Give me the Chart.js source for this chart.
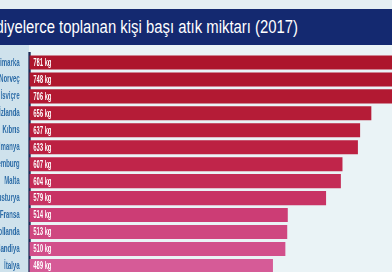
<!DOCTYPE html>
<html>
<head>
<meta charset="utf-8">
<script src="https://cdn.jsdelivr.net/npm/chart.js@4"></script>
<style>
  html, body { margin: 0; padding: 0; }
  body { width: 392px; height: 272px; overflow: hidden; background: #e4eef2; position: relative; }
  #title {
    position: absolute; left: 0; top: 9px; width: 392px; height: 36px;
    background: #142970; overflow: hidden;
  }
  #title span {
    position: absolute; right: 94px; top: 8px; white-space: nowrap;
    font-family: "Liberation Sans", Arial, sans-serif; font-size: 17.5px; color: #ffffff;
    transform: scaleX(0.85); transform-origin: right center;
  }
  #panel { position: absolute; left: 0; top: 45px; width: 29px; height: 227px; background: #cfe2ec; }
  #plotbg { position: absolute; left: 29px; top: 45px; width: 363px; height: 227px; background: #eaf3f6; }
  /* the photo shows narrow type: squeeze the canvas horizontally */
  #wrap {
    position: absolute; left: -31.5px; top: 0;
    transform: scaleX(0.55); transform-origin: 0 0;
  }
  #wrap canvas { display: block; }
</style>
</head>
<body>
<div id="title"><span>Belediyelerce toplanan kişi başı atık miktarı (2017)</span></div>
<div id="panel"></div>
<div id="plotbg"></div>
<div id="wrap"><canvas id="atikChart" width="770" height="291"></canvas></div>
<script>
// Ülkeler ve kişi başı atık (kg)
const ulkeler = ['Danimarka', 'Norveç', 'İsviçre', 'İzlanda', 'Kıbrıs', 'Almanya', 'Lüksemburg',
                 'Malta', 'Avusturya', 'Fransa', 'Hollanda', 'Finlandiya', 'İtalya'];
const atikKg = [781, 748, 706, 656, 637, 633, 607, 604, 579, 514, 513, 510, 489];
const barRenkleri = ['#ad162c', '#af172f', '#b21932', '#b51c37', '#b91e3c', '#bc2142', '#c0254a',
                     '#c42b56', '#c83364', '#cc3d75', '#cf4780', '#d24f8b', '#d65b97'];

// etiketleri çubuğun başına yaz
const degerEtiketi = {
    id: 'degerEtiketi',
    afterDatasetsDraw(chart) {
        const ctx = chart.ctx;
        const meta = chart.getDatasetMeta(0);
        ctx.save();
        ctx.fillStyle = '#ffffff';
        ctx.font = 'bold 10.5px "Liberation Sans", Arial, sans-serif';
        ctx.textBaseline = 'middle';
        meta.data.forEach(function (bar, i) {
            ctx.fillText(atikKg[i] + ' kg', chart.chartArea.left + 7, bar.y + 0.5);
        });
        ctx.restore();
    }
};

const ctx = document.getElementById('atikChart').getContext('2d');
new Chart(ctx, {
    type: 'bar',
    data: {
        labels: ulkeler,
        datasets: [{
            data: atikKg,
            backgroundColor: barRenkleri,
            borderWidth: 0,
            categoryPercentage: 1,
            barPercentage: 0.83
        }]
    },
    options: {
        indexAxis: 'y',
        responsive: false,
        animation: false,
        layout: { padding: { top: 54, bottom: 0, left: 0, right: 0 } },
        plugins: {
            legend: { display: false },
            tooltip: { enabled: false }
        },
        scales: {
            x: {
                display: false,
                min: 75,
                max: 692
            },
            y: {
                afterFit: function (scale) { scale.width = 110; },
                grid: { display: false },
                border: { display: true, color: '#1b2a55', width: 4 },
                ticks: {
                    color: '#2f6ea8',
                    padding: 10,
                    font: { family: '"Liberation Sans", Arial, sans-serif', size: 11, weight: 'bold' }
                }
            }
        }
    },
    plugins: [degerEtiketi]
});
</script>
</body>
</html>
